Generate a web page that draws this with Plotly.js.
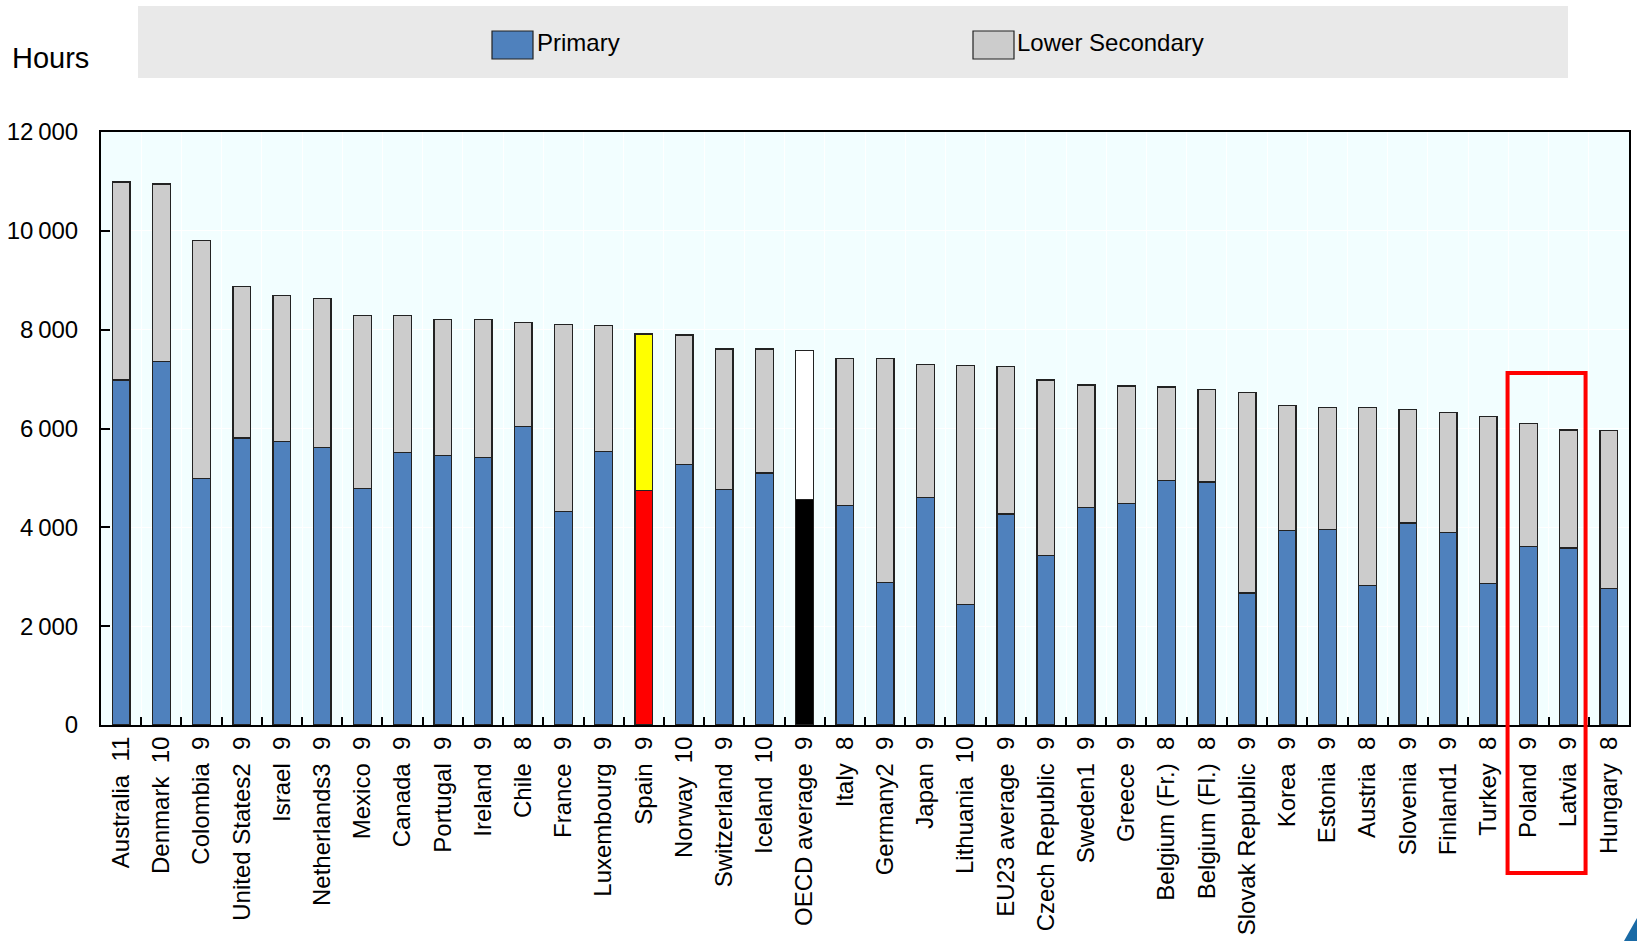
<!DOCTYPE html>
<html>
<head>
<meta charset="utf-8">
<script src="https://cdn.plot.ly/plotly-3.0.1.min.js"></script>
<style>
  html, body { margin: 0; padding: 0; background: #ffffff; }
  #chart { width: 1637px; height: 941px; }
</style>
</head>
<body>
<div id="chart"></div>
<script>
// Cumulative compulsory instruction time (hours) by level, with number of compulsory years
const countries = [
  "Australia", "Denmark", "Colombia", "United States2", "Israel", "Netherlands3",
  "Mexico", "Canada", "Portugal", "Ireland", "Chile", "France", "Luxembourg",
  "Spain", "Norway", "Switzerland", "Iceland", "OECD average", "Italy", "Germany2",
  "Japan", "Lithuania", "EU23 average", "Czech Republic", "Sweden1", "Greece",
  "Belgium (Fr.)", "Belgium (Fl.)", "Slovak Republic", "Korea", "Estonia", "Austria",
  "Slovenia", "Finland1", "Turkey", "Poland", "Latvia", "Hungary"
];
const years = [
  11, 10, 9, 9, 9, 9,
  9, 9, 9, 9, 8, 9, 9,
  9, 10, 9, 10, 9, 8, 9,
  9, 10, 9, 9, 9, 9,
  8, 8, 9, 9, 9, 8,
  9, 9, 8, 9, 9, 8
];
const primary = [
  6980, 7350, 4990, 5810, 5730, 5620,
  4790, 5510, 5460, 5420, 6040, 4320, 5540,
  4740, 5270, 4770, 5100, 4570, 4440, 2890,
  4600, 2440, 4270, 3430, 4400, 4480,
  4950, 4920, 2670, 3930, 3950, 2820,
  4090, 3900, 2870, 3610, 3580, 2760
];
const lowerSecondary = [
  4010, 3600, 4810, 3060, 2960, 3010,
  3500, 2770, 2750, 2780, 2110, 3790, 2540,
  3170, 2620, 2840, 2510, 3010, 2980, 4530,
  2690, 4830, 2980, 3550, 2480, 2380,
  1890, 1870, 4060, 2530, 2470, 3600,
  2290, 2420, 3380, 2490, 2390, 3200
];
const yTicks = [0, 2000, 4000, 6000, 8000, 10000, 12000];
const boxed = ["Poland", "Latvia"];

const COL = {
  primary: "#4F81BD",
  secondary: "#CCCCCC",
  spainLow: "#FF0000",
  spainHigh: "#FFFF00",
  avgLow: "#000000",
  avgHigh: "#FFFFFF",
  outline: "#222222"
};

const labels = countries.map((c, i) => c + "\u00A0\u00A0" + years[i]);
const primaryColors = countries.map(c =>
  c === "Spain" ? COL.spainLow : (c === "OECD average" ? COL.avgLow : COL.primary));
const secondaryColors = countries.map(c =>
  c === "Spain" ? COL.spainHigh : (c === "OECD average" ? COL.avgHigh : COL.secondary));

// "12 000" style labels with a thin-space thousands separator
const fmt = v => String(v).replace(/\B(?=(\d{3})+(?!\d))/g, "\u2009");

const traces = [
  {
    type: "bar", name: "Primary", x: labels, y: primary,
    marker: { color: primaryColors, line: { color: COL.outline, width: 1.3 } },
    showlegend: false, hoverinfo: "x+y+name"
  },
  {
    type: "bar", name: "Lower Secondary", x: labels, y: lowerSecondary,
    marker: { color: secondaryColors, line: { color: COL.outline, width: 1.3 } },
    showlegend: false, hoverinfo: "x+y+name"
  }
];

// Plot area geometry (pixels) used to place the header items in paper units
const W = 1637, H = 941;
const M = { l: 101, r: 8, t: 132, b: 216 };
const PW = W - M.l - M.r, PH = H - M.t - M.b;
const px = v => (v - M.l) / PW;
const py = v => (H - M.b - v) / PH;

const firstBox = countries.indexOf(boxed[0]);
const lastBox = countries.indexOf(boxed[boxed.length - 1]);

const shapes = [
  // header band holding the legend
  { type: "rect", xref: "paper", yref: "paper", layer: "below",
    x0: px(138), x1: px(1568), y0: py(78), y1: py(6),
    fillcolor: "#E9E9E9", line: { width: 0 } },
  // legend swatches
  { type: "rect", xref: "paper", yref: "paper",
    x0: px(492), x1: px(533), y0: py(59), y1: py(31),
    fillcolor: COL.primary, line: { color: "#222222", width: 1.2 } },
  { type: "rect", xref: "paper", yref: "paper",
    x0: px(973), x1: px(1014), y0: py(59), y1: py(31),
    fillcolor: COL.secondary, line: { color: "#222222", width: 1.2 } },
  // red frame around the boxed countries
  { type: "rect", xref: "x", yref: "paper",
    x0: firstBox - 0.52, x1: lastBox + 0.42, y0: py(873), y1: py(373),
    fillcolor: "rgba(0,0,0,0)", line: { color: "#FF0000", width: 4 } },
  // corner mark
  { type: "path", xref: "paper", yref: "paper",
    path: "M " + px(1637) + "," + py(918) + " L " + px(1637) + "," + py(941) +
          " L " + px(1624) + "," + py(941) + " Z",
    fillcolor: "#1A6AA5", line: { width: 0 } }
];

const annotations = [
  { text: "Hours", xref: "paper", yref: "paper", x: px(10), y: py(58),
    xanchor: "left", yanchor: "middle", showarrow: false,
    font: { family: "Liberation Sans, Arial, sans-serif", size: 29, color: "#000" } },
  { text: "Primary", xref: "paper", yref: "paper", x: px(535), y: py(43),
    xanchor: "left", yanchor: "middle", showarrow: false,
    font: { family: "Liberation Sans Narrow, Arial Narrow, Liberation Sans, sans-serif", size: 24, color: "#000" } },
  { text: "Lower Secondary", xref: "paper", yref: "paper", x: px(1015), y: py(43),
    xanchor: "left", yanchor: "middle", showarrow: false,
    font: { family: "Liberation Sans Narrow, Arial Narrow, Liberation Sans, sans-serif", size: 24, color: "#000" } }
];

const layout = {
  width: W, height: H,
  margin: M,
  paper_bgcolor: "#FFFFFF",
  plot_bgcolor: "#F2FEFF",
  barmode: "stack",
  bargap: 0.56,
  font: { family: "Liberation Sans, Arial, sans-serif", size: 24, color: "#000" },
  xaxis: {
    type: "category",
    tickangle: -90,
    ticks: "inside", ticklen: 8, tickwidth: 2, tickcolor: "#000",
    tickson: "boundaries",
    showgrid: true, gridcolor: "#FFFFFF", gridwidth: 1,
    showline: true, linecolor: "#000", linewidth: 2, mirror: true,
    ticklabelstandoff: 0,
    tickfont: { size: 24, color: "#000" },
    range: [-0.5, countries.length - 0.5],
    fixedrange: true
  },
  yaxis: {
    range: [0, 12000],
    tickmode: "array",
    tickvals: yTicks,
    ticktext: yTicks.map(fmt),
    ticks: "inside", ticklen: 9, tickwidth: 2, tickcolor: "#000",
    showgrid: true, gridcolor: "#FFFFFF", gridwidth: 1,
    showline: true, linecolor: "#000", linewidth: 2, mirror: true,
    zeroline: false,
    ticklabelstandoff: 16,
    tickfont: { size: 24, color: "#000" },
    fixedrange: true
  },
  shapes: shapes,
  annotations: annotations
};

Plotly.newPlot("chart", traces, layout, { displayModeBar: false, staticPlot: true });
</script>
</body>
</html>
